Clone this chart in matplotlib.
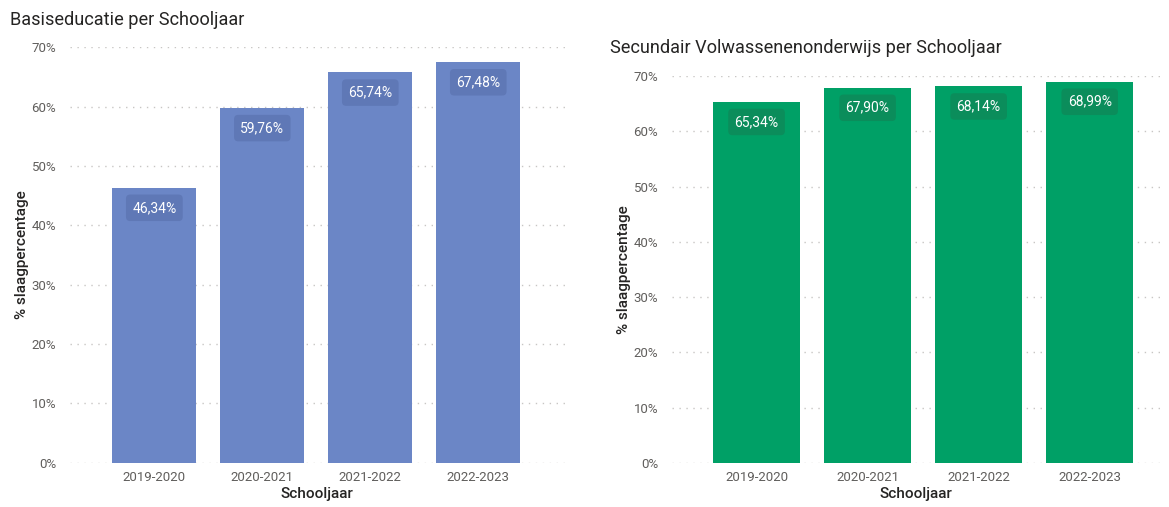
# Slaagpercentages per schooljaar: basiseducatie vs secundair volwassenenonderwijs

import matplotlib
matplotlib.use('Agg')
from matplotlib import pyplot as plt
from matplotlib.ticker import FuncFormatter

schooljaren = ['2019-2020', '2020-2021', '2021-2022', '2022-2023']
basiseducatie = [46.34, 59.76, 65.74, 67.48]
secundair = [65.34, 67.90, 68.14, 68.99]

plt.rcParams['font.family'] = ['Roboto', 'DejaVu Sans']

fig = plt.figure(figsize=(11.69, 5.07), dpi=100)


def draw_panel(ax, values, bar_color, box_color, title, title_xy, xlim):
    x = range(len(schooljaren))
    ax.bar(x, values, width=0.78, color=bar_color, zorder=2)
    ax.set_ylim(0, 70)
    ax.set_xlim(*xlim)
    ax.set_yticks(range(0, 71, 10))
    ax.yaxis.set_major_formatter(FuncFormatter(lambda v, p: f'{v:.0f}%'))
    ax.set_xticks(list(x))
    ax.set_xticklabels(schooljaren)
    ax.tick_params(length=0, labelsize=9.5, colors='#605E5C', pad=6)
    ax.tick_params(axis='y', pad=10)
    ax.grid(axis='y', linestyle=(0, (1, 4)), color='#C8C6C4', linewidth=1.0, zorder=0)
    for s in ax.spines.values():
        s.set_visible(False)
    ax.set_xlabel('Schooljaar', fontsize=11, fontweight='medium', color='#252423', labelpad=2)
    ax.set_ylabel('% slaagpercentage', fontsize=11, fontweight='medium', color='#252423', labelpad=2)
    for i, v in enumerate(values):
        label = f'{v:.2f}%'.replace('.', ',')
        ax.annotate(label, (i, v), xytext=(0, -14.5), textcoords='offset points',
                    ha='center', va='center', fontsize=10, color='white', zorder=3,
                    bbox=dict(boxstyle='round,pad=0.45,rounding_size=0.3',
                              fc=box_color, ec='none'))
    fig.text(title_xy[0], title_xy[1], title, fontsize=13.1, color='#252423',
             ha='left', va='center')


ax1 = fig.add_axes([0.060, 0.087, 0.423, 0.820])
draw_panel(ax1, basiseducatie, '#6B86C6', '#5F78B6',
           'Basiseducatie per Schooljaar', (10 / 1169, 1 - 20 / 507), (-0.78, 3.8))

ax2 = fig.add_axes([0.575, 0.087, 0.417, 0.763])
draw_panel(ax2, secundair, '#00A066', '#0B8D5B',
           'Secundair Volwassenenonderwijs per Schooljaar', (610 / 1169, 1 - 48 / 507), (-0.76, 3.63))

fig.savefig('out.png', dpi=100)
